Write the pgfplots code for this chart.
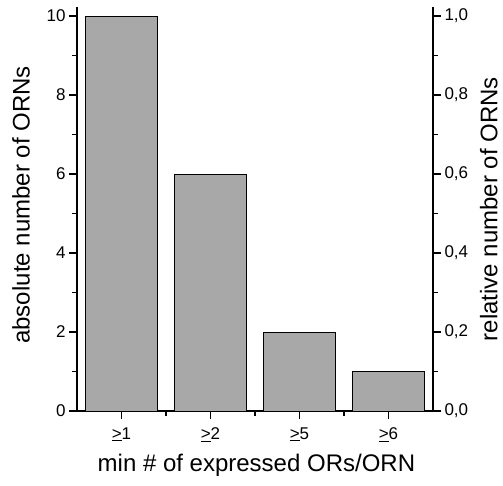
\documentclass[border=0pt]{standalone}
\usepackage{pgfplots}
\pgfplotsset{compat=1.18}
\usepackage{fontspec}
\setmainfont{Liberation Sans}
\definecolor{barfill}{RGB}{168,168,168}

\begin{document}
\begin{tikzpicture}
\pgfplotsset{
  common/.style={
    scale only axis, width=356pt, height=404pt,
    at={(0,0)}, anchor=south west,
    xmin=0.5, xmax=4.5,
    tick align=outside, major tick length=8pt, minor tick length=5pt,
    axis line style={-, line width=1.4pt},
    every tick/.style={black, line width=1.4pt},
    every minor tick/.style={black, line width=1.4pt},
    every tick label/.append style={font=\fontsize{17}{20}\selectfont},
    /pgf/number format/assume math mode=true,
  }
}
\begin{axis}[common,
  ymin=0, ymax=10.23,
  axis x line*=bottom, axis y line*=left,
  xtick={1,2,3,4},
  xticklabels={\underline{>}1,\underline{>}2,\underline{>}5,\underline{>}6},
  xticklabel style={yshift=-5pt},
  minor xtick={1.5,2.5,3.5},
  ytick={0,2,4,6,8,10}, minor ytick={1,3,5,7,9},
  xlabel={min \# of expressed ORs/ORN},
  ylabel={absolute number of ORNs},
  every axis x label/.style={at={(rel axis cs:0.504,-0.134)}, anchor=center,
    font=\fontsize{24}{28}\selectfont},
  every axis y label/.style={at={(rel axis cs:-0.157,0.51)}, rotate=90, anchor=center,
    font=\fontsize{24}{28}\selectfont},
]
\addplot[ybar, bar width=0.8, fill=barfill, draw=black, line width=0.9pt]
  coordinates {(1,10) (2,6) (3,2) (4,1)};
\end{axis}
\begin{axis}[common,
  ymin=0, ymax=1.023,
  axis x line=none, axis y line*=right,
  ytick={0,0.2,0.4,0.6,0.8,1.0},
  minor ytick={0.1,0.3,0.5,0.7,0.9},
  yticklabel style={/pgf/number format/.cd, fixed, fixed zerofill, precision=1, use comma},
  ylabel={relative number of ORNs},
  every axis y label/.style={at={(rel axis cs:1.157,0.5)}, rotate=90, anchor=center,
    font=\fontsize{24}{28}\selectfont},
]
\end{axis}
\pgfresetboundingbox
\path (-77pt,-74pt) rectangle (426pt,411pt);
\end{tikzpicture}
\end{document}
